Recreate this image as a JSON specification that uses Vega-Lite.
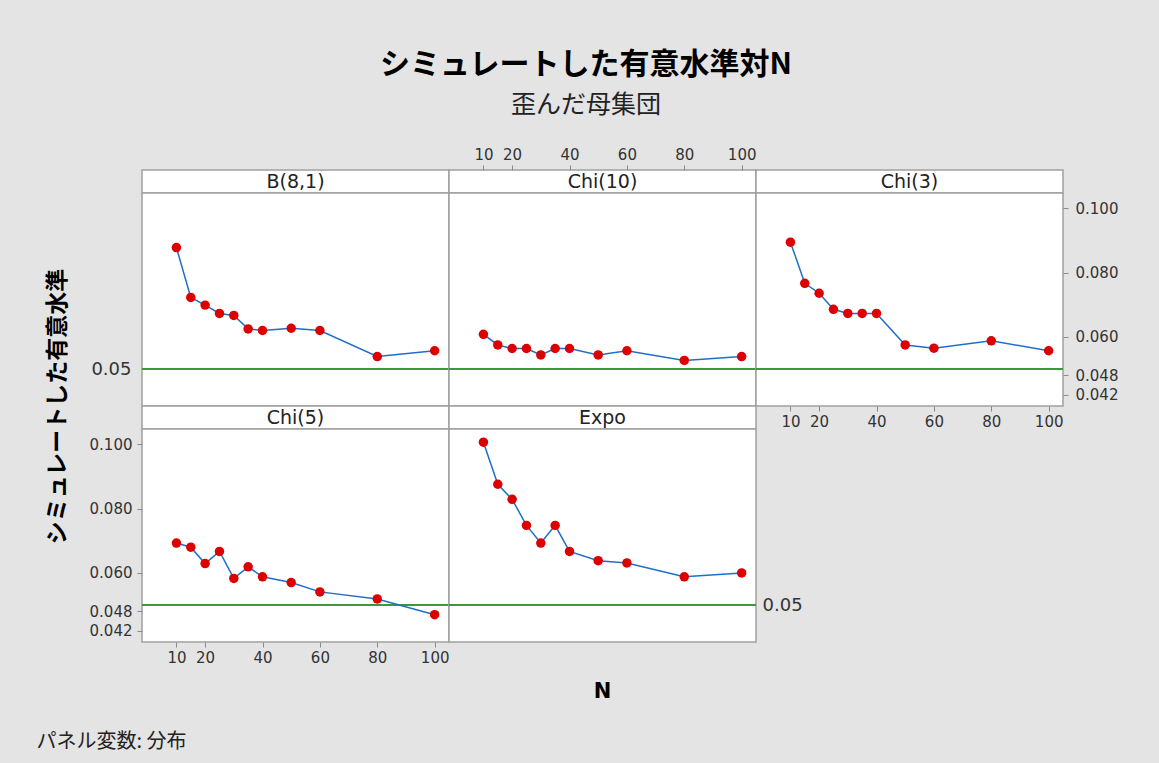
{
  "$schema": "https://vega.github.io/schema/vega-lite/v6.json",
  "background": "#e4e4e4",
  "padding": {"left": 35, "top": 50, "right": 41, "bottom": 12},
  "title": {
    "text": "シミュレートした有意水準対N",
    "subtitle": "歪んだ母集団",
    "anchor": "middle",
    "font": "Noto Sans CJK JP",
    "fontSize": 30,
    "fontWeight": "bold",
    "color": "#000000",
    "subtitleFont": "Noto Sans CJK JP",
    "subtitleFontSize": 25,
    "subtitleColor": "#222222",
    "subtitlePadding": 13,
    "offset": 28,
    "dx": 9
  },
  "config": {
    "view": {"fill": "white", "stroke": "#a0a0a0", "strokeWidth": 1.5},
    "axis": {
      "labelFont": "DejaVu Sans",
      "labelFontSize": 15,
      "labelColor": "#333333",
      "tickColor": "#888888",
      "tickSize": 5,
      "grid": false,
      "domain": false
    },
    "text": {"font": "DejaVu Sans", "fontSize": 19, "color": "#222222"}
  },
  "datasets": {
    "sim": [
      {"dist": "B(8,1)", "N": 10, "alpha": 0.0878},
      {"dist": "B(8,1)", "N": 15, "alpha": 0.0723},
      {"dist": "B(8,1)", "N": 20, "alpha": 0.0699},
      {"dist": "B(8,1)", "N": 25, "alpha": 0.0673},
      {"dist": "B(8,1)", "N": 30, "alpha": 0.0667},
      {"dist": "B(8,1)", "N": 35, "alpha": 0.0625},
      {"dist": "B(8,1)", "N": 40, "alpha": 0.0620},
      {"dist": "B(8,1)", "N": 50, "alpha": 0.0627},
      {"dist": "B(8,1)", "N": 60, "alpha": 0.0620},
      {"dist": "B(8,1)", "N": 80, "alpha": 0.0539},
      {"dist": "B(8,1)", "N": 100, "alpha": 0.0557},
      {"dist": "Chi(10)", "N": 10, "alpha": 0.0608},
      {"dist": "Chi(10)", "N": 15, "alpha": 0.0575},
      {"dist": "Chi(10)", "N": 20, "alpha": 0.0564},
      {"dist": "Chi(10)", "N": 25, "alpha": 0.0564},
      {"dist": "Chi(10)", "N": 30, "alpha": 0.0544},
      {"dist": "Chi(10)", "N": 35, "alpha": 0.0564},
      {"dist": "Chi(10)", "N": 40, "alpha": 0.0564},
      {"dist": "Chi(10)", "N": 50, "alpha": 0.0544},
      {"dist": "Chi(10)", "N": 60, "alpha": 0.0557},
      {"dist": "Chi(10)", "N": 80, "alpha": 0.0527},
      {"dist": "Chi(10)", "N": 100, "alpha": 0.0539},
      {"dist": "Chi(3)", "N": 10, "alpha": 0.0895},
      {"dist": "Chi(3)", "N": 15, "alpha": 0.0767},
      {"dist": "Chi(3)", "N": 20, "alpha": 0.0736},
      {"dist": "Chi(3)", "N": 25, "alpha": 0.0686},
      {"dist": "Chi(3)", "N": 30, "alpha": 0.0673},
      {"dist": "Chi(3)", "N": 35, "alpha": 0.0673},
      {"dist": "Chi(3)", "N": 40, "alpha": 0.0673},
      {"dist": "Chi(3)", "N": 50, "alpha": 0.0575},
      {"dist": "Chi(3)", "N": 60, "alpha": 0.0565},
      {"dist": "Chi(3)", "N": 80, "alpha": 0.0588},
      {"dist": "Chi(3)", "N": 100, "alpha": 0.0557},
      {"dist": "Chi(5)", "N": 10, "alpha": 0.0693},
      {"dist": "Chi(5)", "N": 15, "alpha": 0.0680},
      {"dist": "Chi(5)", "N": 20, "alpha": 0.0629},
      {"dist": "Chi(5)", "N": 25, "alpha": 0.0667},
      {"dist": "Chi(5)", "N": 30, "alpha": 0.0583},
      {"dist": "Chi(5)", "N": 35, "alpha": 0.0619},
      {"dist": "Chi(5)", "N": 40, "alpha": 0.0588},
      {"dist": "Chi(5)", "N": 50, "alpha": 0.0570},
      {"dist": "Chi(5)", "N": 60, "alpha": 0.0541},
      {"dist": "Chi(5)", "N": 80, "alpha": 0.0519},
      {"dist": "Chi(5)", "N": 100, "alpha": 0.0470},
      {"dist": "Expo", "N": 10, "alpha": 0.1007},
      {"dist": "Expo", "N": 15, "alpha": 0.0876},
      {"dist": "Expo", "N": 20, "alpha": 0.0829},
      {"dist": "Expo", "N": 25, "alpha": 0.0748},
      {"dist": "Expo", "N": 30, "alpha": 0.0693},
      {"dist": "Expo", "N": 35, "alpha": 0.0748},
      {"dist": "Expo", "N": 40, "alpha": 0.0667},
      {"dist": "Expo", "N": 50, "alpha": 0.0638},
      {"dist": "Expo", "N": 60, "alpha": 0.0631},
      {"dist": "Expo", "N": 80, "alpha": 0.0588},
      {"dist": "Expo", "N": 100, "alpha": 0.0600}
    ],
    "panels": [
      {"dist": "B(8,1)"}, {"dist": "Chi(10)"}, {"dist": "Chi(3)"}, {"dist": "Chi(5)"}, {"dist": "Expo"}
    ],
    "ref": [{"level": 0.05}]
  },
  "columns": 3,
  "spacing": 0,
  "bounds": "flush",
  "concat": [
    {
      "width": 307, "height": 23,
      "data": {"name": "panels"},
      "transform": [{"filter": "datum.dist === 'B(8,1)'"}],
      "mark": {"type": "text"},
      "encoding": {"text": {"field": "dist", "type": "nominal"}},
      "view": {"fill": "white", "stroke": "#a0a0a0", "strokeWidth": 1.5}
    },
    {
      "width": 307, "height": 23,
      "data": {"name": "panels"},
      "transform": [{"filter": "datum.dist === 'Chi(10)'"}],
      "mark": {"type": "text"},
      "encoding": {"text": {"field": "dist", "type": "nominal"}},
      "view": {"fill": "white", "stroke": "#a0a0a0", "strokeWidth": 1.5}
    },
    {
      "width": 307, "height": 23,
      "data": {"name": "panels"},
      "transform": [{"filter": "datum.dist === 'Chi(3)'"}],
      "mark": {"type": "text"},
      "encoding": {"text": {"field": "dist", "type": "nominal"}},
      "view": {"fill": "white", "stroke": "#a0a0a0", "strokeWidth": 1.5}
    },
    {
      "width": 307, "height": 213,
      "data": {"name": "sim"},
      "transform": [{"filter": "datum.dist === 'B(8,1)'"}],
      "layer": [
        {
          "data": {"name": "ref"},
          "mark": {"type": "rule", "color": "#3a9a3a", "strokeWidth": 2},
          "encoding": {"y": {"field": "level", "type": "quantitative", "scale": {"domain": [0.0385, 0.1048], "nice": false, "zero": false}, "axis": {"orient": "left", "values": [0.05], "format": ".2f", "ticks": false, "tickSize": 0, "labelFontSize": 18, "labelPadding": 11, "title": null}}}
        },
        {
          "mark": {"type": "line", "color": "#1f6fc8", "strokeWidth": 1.5},
          "encoding": {
            "x": {"field": "N", "type": "quantitative", "scale": {"domain": [-2, 105], "nice": false, "zero": false}, "axis": null},
            "y": {"field": "alpha", "type": "quantitative", "scale": {"domain": [0.0385, 0.1048], "nice": false, "zero": false}, "axis": {"orient": "left", "values": [0.05], "format": ".2f", "ticks": false, "tickSize": 0, "labelFontSize": 18, "labelPadding": 11, "title": null}}
          }
        },
        {
          "mark": {"type": "point", "filled": true, "color": "#dd0000", "size": 90, "opacity": 1, "strokeWidth": 0},
          "encoding": {
            "x": {"field": "N", "type": "quantitative", "scale": {"domain": [-2, 105], "nice": false, "zero": false}, "axis": null},
            "y": {"field": "alpha", "type": "quantitative", "scale": {"domain": [0.0385, 0.1048], "nice": false, "zero": false}, "axis": {"orient": "left", "values": [0.05], "format": ".2f", "ticks": false, "tickSize": 0, "labelFontSize": 18, "labelPadding": 11, "title": null}}
          }
        }
      ]
    },
    {
      "width": 307, "height": 213,
      "data": {"name": "sim"},
      "transform": [{"filter": "datum.dist === 'Chi(10)'"}],
      "layer": [
        {
          "data": {"name": "ref"},
          "mark": {"type": "rule", "color": "#3a9a3a", "strokeWidth": 2},
          "encoding": {"y": {"field": "level", "type": "quantitative", "scale": {"domain": [0.0385, 0.1048], "nice": false, "zero": false}, "axis": null}}
        },
        {
          "mark": {"type": "line", "color": "#1f6fc8", "strokeWidth": 1.5},
          "encoding": {
            "x": {"field": "N", "type": "quantitative", "scale": {"domain": [-2, 105], "nice": false, "zero": false}, "axis": {"orient": "top", "values": [10, 20, 40, 60, 80, 100], "offset": 23, "labelPadding": 3, "title": null}},
            "y": {"field": "alpha", "type": "quantitative", "scale": {"domain": [0.0385, 0.1048], "nice": false, "zero": false}, "axis": null}
          }
        },
        {
          "mark": {"type": "point", "filled": true, "color": "#dd0000", "size": 90, "opacity": 1, "strokeWidth": 0},
          "encoding": {
            "x": {"field": "N", "type": "quantitative", "scale": {"domain": [-2, 105], "nice": false, "zero": false}, "axis": {"orient": "top", "values": [10, 20, 40, 60, 80, 100], "offset": 23, "labelPadding": 3, "title": null}},
            "y": {"field": "alpha", "type": "quantitative", "scale": {"domain": [0.0385, 0.1048], "nice": false, "zero": false}, "axis": null}
          }
        }
      ]
    },
    {
      "width": 307, "height": 213,
      "data": {"name": "sim"},
      "transform": [{"filter": "datum.dist === 'Chi(3)'"}],
      "layer": [
        {
          "data": {"name": "ref"},
          "mark": {"type": "rule", "color": "#3a9a3a", "strokeWidth": 2},
          "encoding": {"y": {"field": "level", "type": "quantitative", "scale": {"domain": [0.0385, 0.1048], "nice": false, "zero": false}, "axis": {"orient": "right", "values": [0.042, 0.048, 0.06, 0.08, 0.1], "format": ".3f", "labelPadding": 7, "title": null}}}
        },
        {
          "mark": {"type": "line", "color": "#1f6fc8", "strokeWidth": 1.5},
          "encoding": {
            "x": {"field": "N", "type": "quantitative", "scale": {"domain": [-2, 105], "nice": false, "zero": false}, "axis": {"orient": "bottom", "values": [10, 20, 40, 60, 80, 100], "labelPadding": 3, "title": null}},
            "y": {"field": "alpha", "type": "quantitative", "scale": {"domain": [0.0385, 0.1048], "nice": false, "zero": false}, "axis": {"orient": "right", "values": [0.042, 0.048, 0.06, 0.08, 0.1], "format": ".3f", "labelPadding": 7, "title": null}}
          }
        },
        {
          "mark": {"type": "point", "filled": true, "color": "#dd0000", "size": 90, "opacity": 1, "strokeWidth": 0},
          "encoding": {
            "x": {"field": "N", "type": "quantitative", "scale": {"domain": [-2, 105], "nice": false, "zero": false}, "axis": {"orient": "bottom", "values": [10, 20, 40, 60, 80, 100], "labelPadding": 3, "title": null}},
            "y": {"field": "alpha", "type": "quantitative", "scale": {"domain": [0.0385, 0.1048], "nice": false, "zero": false}, "axis": {"orient": "right", "values": [0.042, 0.048, 0.06, 0.08, 0.1], "format": ".3f", "labelPadding": 7, "title": null}}
          }
        }
      ]
    },
    {
      "width": 307, "height": 23,
      "data": {"name": "panels"},
      "transform": [{"filter": "datum.dist === 'Chi(5)'"}],
      "mark": {"type": "text"},
      "encoding": {"text": {"field": "dist", "type": "nominal"}},
      "view": {"fill": "white", "stroke": "#a0a0a0", "strokeWidth": 1.5}
    },
    {
      "width": 307, "height": 23,
      "data": {"name": "panels"},
      "transform": [{"filter": "datum.dist === 'Expo'"}],
      "mark": {"type": "text"},
      "encoding": {"text": {"field": "dist", "type": "nominal"}},
      "view": {"fill": "white", "stroke": "#a0a0a0", "strokeWidth": 1.5}
    },
    {
      "width": 307, "height": 23,
      "data": {"name": "panels"},
      "transform": [{"filter": "false"}],
      "mark": {"type": "text"},
      "encoding": {"text": {"field": "dist", "type": "nominal"}},
      "view": {"stroke": null, "fill": null}
    },
    {
      "width": 307, "height": 213,
      "data": {"name": "sim"},
      "transform": [{"filter": "datum.dist === 'Chi(5)'"}],
      "layer": [
        {
          "data": {"name": "ref"},
          "mark": {"type": "rule", "color": "#3a9a3a", "strokeWidth": 2},
          "encoding": {"y": {"field": "level", "type": "quantitative", "scale": {"domain": [0.0385, 0.1048], "nice": false, "zero": false}, "axis": {"orient": "left", "values": [0.042, 0.048, 0.06, 0.08, 0.1], "format": ".3f", "labelPadding": 5, "title": "シミュレートした有意水準", "titleX": -85, "titleY": -23, "titleAngle": 270, "titleAlign": "center", "titleBaseline": "middle", "titleFont": "Noto Sans CJK JP", "titleFontSize": 23, "titleFontWeight": "bold", "titleColor": "#000000"}}}
        },
        {
          "mark": {"type": "line", "color": "#1f6fc8", "strokeWidth": 1.5},
          "encoding": {
            "x": {"field": "N", "type": "quantitative", "scale": {"domain": [-2, 105], "nice": false, "zero": false}, "axis": {"orient": "bottom", "values": [10, 20, 40, 60, 80, 100], "labelPadding": 3, "title": "N", "titleX": 460, "titleY": 49, "titleAlign": "center", "titleBaseline": "middle", "titleFont": "DejaVu Sans", "titleFontSize": 21, "titleFontWeight": "bold", "titleColor": "#000000"}},
            "y": {"field": "alpha", "type": "quantitative", "scale": {"domain": [0.0385, 0.1048], "nice": false, "zero": false}, "axis": {"orient": "left", "values": [0.042, 0.048, 0.06, 0.08, 0.1], "format": ".3f", "labelPadding": 5, "title": "シミュレートした有意水準", "titleX": -85, "titleY": -23, "titleAngle": 270, "titleAlign": "center", "titleBaseline": "middle", "titleFont": "Noto Sans CJK JP", "titleFontSize": 23, "titleFontWeight": "bold", "titleColor": "#000000"}}
          }
        },
        {
          "mark": {"type": "point", "filled": true, "color": "#dd0000", "size": 90, "opacity": 1, "strokeWidth": 0},
          "encoding": {
            "x": {"field": "N", "type": "quantitative", "scale": {"domain": [-2, 105], "nice": false, "zero": false}, "axis": {"orient": "bottom", "values": [10, 20, 40, 60, 80, 100], "labelPadding": 3, "title": "N", "titleX": 460, "titleY": 49, "titleAlign": "center", "titleBaseline": "middle", "titleFont": "DejaVu Sans", "titleFontSize": 21, "titleFontWeight": "bold", "titleColor": "#000000"}},
            "y": {"field": "alpha", "type": "quantitative", "scale": {"domain": [0.0385, 0.1048], "nice": false, "zero": false}, "axis": {"orient": "left", "values": [0.042, 0.048, 0.06, 0.08, 0.1], "format": ".3f", "labelPadding": 5, "title": "シミュレートした有意水準", "titleX": -85, "titleY": -23, "titleAngle": 270, "titleAlign": "center", "titleBaseline": "middle", "titleFont": "Noto Sans CJK JP", "titleFontSize": 23, "titleFontWeight": "bold", "titleColor": "#000000"}}
          }
        }
      ]
    },
    {
      "width": 307, "height": 213,
      "data": {"name": "sim"},
      "transform": [{"filter": "datum.dist === 'Expo'"}],
      "layer": [
        {
          "data": {"name": "ref"},
          "mark": {"type": "rule", "color": "#3a9a3a", "strokeWidth": 2},
          "encoding": {"y": {"field": "level", "type": "quantitative", "scale": {"domain": [0.0385, 0.1048], "nice": false, "zero": false}, "axis": {"orient": "right", "values": [0.05], "format": ".2f", "ticks": false, "tickSize": 0, "labelFontSize": 18, "labelPadding": 6, "title": null}}}
        },
        {
          "mark": {"type": "line", "color": "#1f6fc8", "strokeWidth": 1.5},
          "encoding": {
            "x": {"field": "N", "type": "quantitative", "scale": {"domain": [-2, 105], "nice": false, "zero": false}, "axis": {"orient": "bottom", "labels": false, "ticks": false, "tickSize": 0, "title": "パネル変数: 分布", "titleX": -413, "titleY": 99, "titleAlign": "left", "titleBaseline": "middle", "titleFont": "Noto Sans CJK JP", "titleFontSize": 20, "titleFontWeight": "normal", "titleColor": "#222222"}},
            "y": {"field": "alpha", "type": "quantitative", "scale": {"domain": [0.0385, 0.1048], "nice": false, "zero": false}, "axis": {"orient": "right", "values": [0.05], "format": ".2f", "ticks": false, "tickSize": 0, "labelFontSize": 18, "labelPadding": 6, "title": null}}
          }
        },
        {
          "mark": {"type": "point", "filled": true, "color": "#dd0000", "size": 90, "opacity": 1, "strokeWidth": 0},
          "encoding": {
            "x": {"field": "N", "type": "quantitative", "scale": {"domain": [-2, 105], "nice": false, "zero": false}, "axis": {"orient": "bottom", "labels": false, "ticks": false, "tickSize": 0, "title": "パネル変数: 分布", "titleX": -413, "titleY": 99, "titleAlign": "left", "titleBaseline": "middle", "titleFont": "Noto Sans CJK JP", "titleFontSize": 20, "titleFontWeight": "normal", "titleColor": "#222222"}},
            "y": {"field": "alpha", "type": "quantitative", "scale": {"domain": [0.0385, 0.1048], "nice": false, "zero": false}, "axis": {"orient": "right", "values": [0.05], "format": ".2f", "ticks": false, "tickSize": 0, "labelFontSize": 18, "labelPadding": 6, "title": null}}
          }
        }
      ]
    }
  ]
}
